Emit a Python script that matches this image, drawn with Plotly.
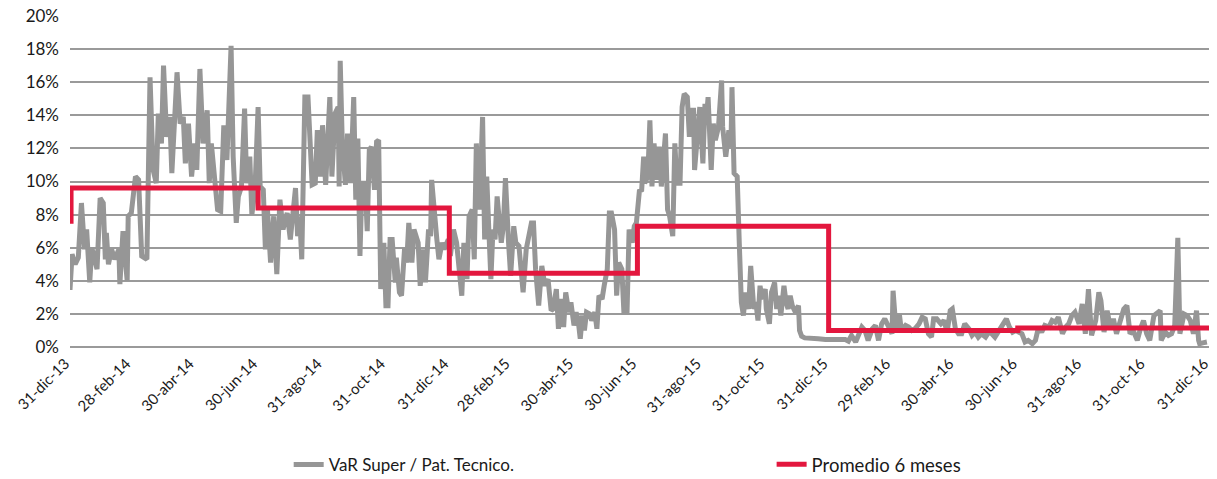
import pandas as pd
import plotly.graph_objects as go

# ---------------- data ----------------
start_date = "2013-12-31"

# VaR Super / Pat. Tecnico. (percent), day offsets from start_date
var_day = [
    0, 2, 5, 8, 11, 14, 16, 19, 21, 26, 29, 32, 34, 35, 37, 40, 43, 47, 48, 51,
    55, 56, 59, 63, 66, 69, 74, 77, 80, 83, 85, 88, 90, 93, 96, 98, 103, 106, 109, 111,
    114, 117, 120, 122, 125, 128, 132, 134, 136, 140, 142, 145, 148, 151, 152, 155, 157, 160, 162, 165,
    168, 170, 173, 175, 178, 181,
    183, 186, 188, 190, 193, 196, 199, 202, 205, 209, 212, 215, 217, 219, 221, 223, 226, 229, 231, 233,
    236, 238, 241, 243, 246, 248, 250, 252, 255, 258, 259, 260, 262, 265, 267, 270, 271, 273, 275, 277,
    279, 281, 284, 286, 288, 290, 293, 295, 297, 299, 302, 304, 306, 308, 310, 313, 314, 317, 319, 322,
    324, 326, 329, 331, 335, 337, 340, 342, 345, 347, 348, 351, 353, 355, 358, 360, 364,
    366, 369, 372, 374, 377, 379, 382, 384, 387, 389, 391, 394, 396, 397, 399, 401, 403, 405, 407, 409,
    411, 413, 415, 417, 419, 422, 424, 427, 429, 432, 434, 436, 439, 441, 444, 446, 448, 451, 454, 457,
    460, 463, 465, 468, 470, 473, 475, 477, 480, 482, 485, 487, 489, 491, 493, 495, 497, 500, 502, 505,
    507, 509, 512, 514, 517, 519, 521, 524, 526, 528, 531, 533, 536, 538, 541, 543, 545,
    548, 550, 552, 553, 556, 558, 560, 562, 565, 567, 569, 571, 573, 575, 577, 580, 582, 584, 587, 589,
    591, 594, 596, 598, 600, 601, 604, 606, 609, 611, 613, 614, 617, 619, 621, 624, 627, 628, 631, 634,
    636, 637, 639, 642, 644, 646, 648, 650, 653, 655, 658, 660, 662, 664, 666, 669, 670, 673, 675, 678,
    680, 682, 684, 687, 689, 691, 693, 695, 698, 701, 702, 704, 707, 714, 720,
    727, 733, 740, 746, 749, 752, 756, 759, 762, 765, 768, 772, 775, 778, 781, 784, 788, 791, 792, 795,
    798, 800, 804, 807, 810, 813, 817, 820, 823, 826, 829, 831, 834, 838, 841, 844, 847, 849, 852, 855,
    858, 861, 865, 868, 871, 874, 877, 881, 884, 887, 890, 894, 897, 901, 904, 907, 910,
    913, 916, 919, 922, 926, 929, 932, 935, 938, 942, 945, 948, 951, 955, 958, 961, 964, 967, 971, 974,
    977, 980, 983, 987, 990, 992, 995, 998, 1001, 1004, 1007, 1011, 1014, 1017, 1020, 1023, 1027, 1030, 1033, 1036,
    1039, 1043, 1046, 1049, 1050, 1054, 1057, 1060, 1063, 1066, 1068, 1072, 1075, 1078, 1081, 1084, 1086, 1087, 1090, 1094,
]

var_pct = [
    3.45, 5.6, 5.0, 5.4, 8.7, 5.9, 7.1, 3.9, 6.0, 4.7, 9.0, 8.7, 5.3, 6.9, 5.0, 5.9, 5.3, 5.9, 3.8, 7.0,
    4.0, 7.9, 8.1, 10.3, 10.1, 5.5, 5.3, 16.3, 10.7, 9.9, 14.1, 12.3, 17.0, 12.7, 13.9, 10.5, 16.6, 13.5, 13.9, 11.1,
    13.5, 10.3, 12.3, 10.7, 16.8, 12.3, 14.3, 9.9, 12.3, 9.9, 8.3, 8.2, 13.4, 11.3, 12.7, 18.2, 11.5, 7.5, 9.1, 9.7,
    14.4, 9.9, 11.5, 8.0, 9.5, 14.5,
    9.7, 9.5, 5.9, 8.3, 5.1, 7.9, 4.4, 8.9, 7.1, 8.1, 6.5, 8.3, 9.6, 6.7, 7.9, 5.3, 15.1, 15.1, 11.9, 9.8,
    9.9, 13.1, 10.3, 13.4, 9.8, 12.9, 15.1, 10.3, 14.1, 14.5, 9.7, 17.3, 12.3, 9.8, 12.9, 9.9, 12.3, 15.1, 8.9, 12.6,
    5.5, 9.9, 9.9, 7.0, 11.9, 12.1, 9.5, 12.4, 12.5, 3.5, 6.3, 2.5, 2.5, 6.5, 6.5, 3.9, 5.4, 3.3, 3.1, 6.0,
    5.1, 7.5, 5.1, 7.1, 6.3, 3.7, 5.9, 3.9, 7.1, 6.7, 10.1, 7.5, 6.5, 5.3, 6.3, 5.9, 6.5,
    5.5, 7.1, 6.3, 4.7, 3.1, 6.3, 4.1, 7.9, 8.3, 5.3, 12.3, 8.3, 12.5, 13.9, 6.5, 10.3, 7.1, 4.1, 7.1, 6.5,
    9.1, 7.3, 6.3, 7.3, 10.2, 6.3, 4.3, 7.3, 6.3, 6.1, 4.9, 3.3, 5.9, 6.7, 7.5, 7.5, 4.7, 2.5, 4.9, 3.7,
    4.1, 2.2, 2.3, 3.5, 1.1, 2.9, 1.2, 3.3, 2.1, 2.7, 1.3, 2.1, 1.6, 0.5, 1.9, 1.0, 2.1, 2.0, 1.6, 2.1,
    1.1, 3.1, 2.9, 3.7, 4.7, 8.1, 8.1, 7.1, 3.1, 5.1, 4.7, 2.1, 2.1, 7.1, 6.3, 7.3, 7.5,
    9.5, 9.4, 11.5, 9.9, 10.3, 13.7, 9.7, 12.3, 10.1, 12.1, 9.7, 11.5, 12.9, 8.3, 7.9, 6.7, 12.3, 9.9, 9.9, 14.5,
    15.3, 15.1, 12.7, 14.3, 14.3, 10.7, 13.7, 14.5, 11.1, 14.7, 14.3, 15.1, 10.7, 13.5, 12.5, 13.3, 16.1, 13.3, 11.5, 13.1,
    12.1, 15.7, 10.5, 10.3, 6.3, 2.7, 1.9, 3.3, 2.3, 4.9, 2.3, 2.7, 1.6, 3.7, 2.9, 3.5, 2.3, 1.4, 3.3, 3.9,
    2.3, 3.1, 1.9, 3.7, 2.7, 2.3, 3.1, 2.5, 2.1, 2.5, 1.0, 0.65, 0.55, 0.55, 0.5,
    0.45, 0.45, 0.4, 0.45, 0.35, 0.7, 0.3, 0.8, 1.2, 1.0, 0.4, 1.1, 1.3, 0.4, 1.4, 1.7, 1.2, 0.8, 3.4, 0.9,
    2.0, 1.0, 1.3, 1.2, 1.0, 1.1, 1.4, 1.8, 1.7, 0.8, 0.6, 1.7, 1.7, 1.4, 1.6, 0.9, 2.2, 2.3, 1.1, 0.8,
    0.8, 1.4, 1.1, 0.7, 0.9, 0.6, 0.8, 0.6, 0.9, 0.8, 0.6, 1.0, 1.2, 1.7, 1.2, 0.9, 1.0,
    0.9, 0.8, 0.3, 0.4, 0.2, 0.4, 1.2, 0.9, 1.3, 1.2, 1.6, 1.5, 1.8, 0.8, 1.2, 1.4, 1.9, 2.1, 1.4, 2.6,
    0.8, 3.5, 0.7, 1.6, 3.3, 2.8, 0.9, 2.2, 1.2, 1.7, 0.8, 1.8, 2.3, 2.5, 0.8, 1.0, 0.4, 1.1, 1.6, 0.8,
    0.4, 1.9, 2.1, 2.2, 0.4, 0.9, 0.7, 0.8, 1.3, 6.6, 0.8, 2.0, 1.9, 1.6, 0.8, 2.2, 0.4, 0.2, 0.25, 0.3,
]

# Promedio 6 meses (percent), step levels
avg_dates = ["2013-12-31", "2014-01-01", "2014-06-30", "2014-12-31",
             "2015-06-30", "2015-12-31", "2016-06-30", "2016-12-31"]
avg_pct = [7.6, 9.6, 8.4, 4.45, 7.3, 1.0, 1.15, 1.15]

# x-axis tick labels
tick_dates = ["2013-12-31", "2014-02-28", "2014-04-30", "2014-06-30", "2014-08-31",
              "2014-10-31", "2014-12-31", "2015-02-28", "2015-04-30", "2015-06-30",
              "2015-08-31", "2015-10-31", "2015-12-31", "2016-02-29", "2016-04-30",
              "2016-06-30", "2016-08-31", "2016-10-31", "2016-12-31"]
tick_labels = ["31-dic-13", "28-feb-14", "30-abr-14", "30-jun-14", "31-ago-14",
               "31-oct-14", "31-dic-14", "28-feb-15", "30-abr-15", "30-jun-15",
               "31-ago-15", "31-oct-15", "31-dic-15", "29-feb-16", "30-abr-16",
               "30-jun-16", "31-ago-16", "31-oct-16", "31-dic-16"]

series_names = ["VaR Super / Pat. Tecnico.", "Promedio 6 meses"]

# ---------------- figure ----------------
var_dates = pd.Timestamp(start_date) + pd.to_timedelta(var_day, unit="D")

GRAY = "#969696"
RED = "#E3173E"
FONT = "Lato, 'Open Sans', sans-serif"
TXT = "#1a1a1a"

fig = go.Figure()
fig.add_trace(go.Scatter(
    x=var_dates, y=var_pct, mode="lines", name=series_names[0],
    line=dict(color=GRAY, width=5, shape="linear"), legend="legend",
))
fig.add_trace(go.Scatter(
    x=pd.to_datetime(avg_dates), y=avg_pct, mode="lines", name=series_names[1],
    line=dict(color=RED, width=5, shape="hv"), legend="legend2",
))

legend_common = dict(
    orientation="h", yanchor="middle", y=-0.356, xanchor="left",
    bgcolor="rgba(0,0,0,0)",
)

fig.update_layout(
    width=1217, height=479,
    margin=dict(l=70, r=8, t=16, b=132, autoexpand=False),
    paper_bgcolor="white", plot_bgcolor="white",
    font=dict(family=FONT, size=15, color=TXT),
    showlegend=True,
    legend=dict(x=0.192, font=dict(family=FONT, size=17, color=TXT), **legend_common),
    legend2=dict(x=0.616, font=dict(family=FONT, size=18.5, color=TXT), **legend_common),
    xaxis=dict(
        type="date", automargin=False,
        range=[pd.Timestamp("2013-12-31"), pd.Timestamp("2016-12-31")],
        tickmode="array", tickvals=pd.to_datetime(tick_dates), ticktext=tick_labels,
        tickangle=-45, showgrid=False, zeroline=False,
        showline=False, ticks="", ticklen=0,
        ticklabelshift=-5, ticklabelstandoff=4,
        tickfont=dict(family=FONT, size=15, color=TXT),
    ),
    yaxis=dict(
        automargin=False,
        range=[0, 20], dtick=2, tick0=0, ticksuffix="%",
        showgrid=True, gridcolor="#9a9a9a", gridwidth=1.5,
        zeroline=True, zerolinecolor="#9a9a9a", zerolinewidth=1.5,
        showline=False, ticks="", ticklabelstandoff=10,
        tickfont=dict(family=FONT, size=17, color=TXT),
    ),
)

fig.write_html(
    "out.html",
    config={"displayModeBar": False},
    post_script="document.body.style.margin='0';document.body.style.padding='0';",
)
